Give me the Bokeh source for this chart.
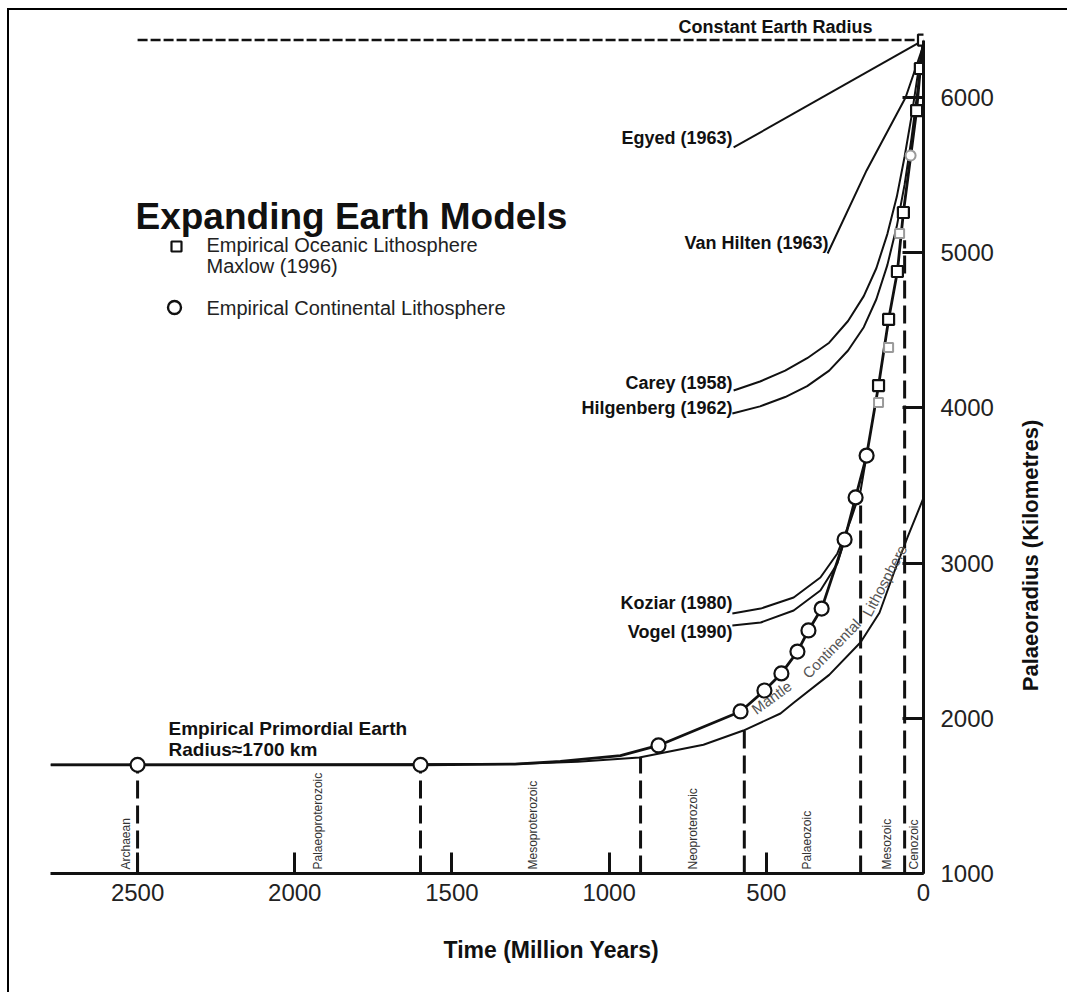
import math
from bokeh.plotting import figure
from bokeh.models import Range1d, Label, FixedTicker, Title
from bokeh.embed import file_html
from bokeh.resources import INLINE

# ---------------- data (time in Myr before present, radius in km) ----------------
const_t = [2500, 0]
const_r = [6370, 6370]

cont_circle_t = [2500, 1600, 843, 582, 506, 452, 401, 366, 324, 251, 216, 181]
cont_circle_r = [1700, 1700, 1825, 2044, 2179, 2289, 2430, 2566, 2707, 3152, 3423, 3693]

ocean_sq_t = [143, 111, 83, 64, 22, 10, 0]
ocean_sq_r = [4144, 4570, 4879, 5259, 5916, 6187, 6370]

grey_sq_t = [143, 111, 76]
grey_sq_r = [4035, 4389, 5124]
grey_ci_t = [41]
grey_ci_r = [5626]

emp_t = [2777, 2500, 1600, 1300, 1155, 964, 843, 582, 506, 452, 401, 366, 324, 251, 216, 181,
         143, 111, 83, 64, 22, 10, 0]
emp_r = [1700, 1700, 1700, 1705, 1722, 1760, 1825, 2044, 2179, 2289, 2430, 2566, 2707, 3152, 3423, 3693,
         4144, 4570, 4879, 5259, 5916, 6187, 6370]

mantle_t = [2777, 1300, 1100, 904, 700, 573, 455, 413, 300, 200, 140, 95, 51, 0]
mantle_r = [1700, 1705, 1720, 1747, 1830, 1921, 2031, 2100, 2280, 2490, 2680, 2933, 3165, 3420]

egyed_t = [604, 0]
egyed_r = [5678, 6370]
vanhilten_t = [305, 181, 57, 3, 0]
vanhilten_r = [4995, 5530, 6000, 6320, 6370]
carey_t = [604, 520, 440, 370, 300, 240, 190, 150, 115, 85, 60, 38, 18, 0]
carey_r = [4112, 4170, 4240, 4320, 4420, 4560, 4720, 4900, 5120, 5360, 5620, 5880, 6150, 6370]
hilgenberg_t = [608, 520, 440, 370, 300, 240, 190, 150, 115, 85, 60, 38, 18, 0]
hilgenberg_r = [3964, 4010, 4070, 4140, 4240, 4370, 4520, 4700, 4920, 5170, 5440, 5740, 6060, 6370]
koziar_t = [608, 518, 413, 328, 274, 232, 200, 181]
koziar_r = [2675, 2707, 2778, 2907, 3062, 3275, 3468, 3693]
vogel_t = [608, 518, 413, 328, 274, 251]
vogel_r = [2598, 2617, 2695, 2823, 2997, 3152]

boundary_t = [2500, 1600, 900, 570, 200, 60]
boundary_top = [1700, 1700, 1750, 1921, 3400, 5080]

era_names = ["Archaean", "Palaeoproterozoic", "Mesoproterozoic", "Neoproterozoic",
             "Palaeozoic", "Mesozoic", "Cenozoic"]

x_ticks = [2500, 2000, 1500, 1000, 500, 0]
y_ticks = [1000, 2000, 3000, 4000, 5000, 6000]

# ---------------- layout helpers (page pixel -> data, for annotations only) ----------------
X0, Y1 = 2777, 6560.6
def tx(px):
    return X0 * (923 - px) / 873
def ry(py):
    return 1000 + (873 - py) * (Y1 - 1000) / 863

FONT = "Liberation Sans"

p = figure(width=1060, height=984, x_range=Range1d(X0, 0), y_range=Range1d(1000, Y1),
           output_backend="svg", toolbar_location=None, y_axis_location="right",
           min_border_left=41, min_border_right=146, min_border_top=0, min_border_bottom=121)
p.styles = {"margin-left": "7px", "margin-top": "8px",
            "border-top": "2px solid #000", "border-left": "2px solid #000"}
p.xgrid.visible = False
p.ygrid.visible = False
p.outline_line_color = None
p.background_fill_color = "white"

for ax, ticks, bounds, standoff in ((p.xaxis[0], x_ticks, (0, X0), 10), (p.yaxis[0], y_ticks, (1000, 6370), 17)):
    ax.ticker = FixedTicker(ticks=ticks)
    ax.bounds = bounds
    ax.major_tick_in = 21
    ax.major_tick_out = 0
    ax.minor_tick_in = 0
    ax.minor_tick_out = 0
    ax.axis_line_width = 3
    ax.major_tick_line_width = 3
    ax.axis_line_color = "#111"
    ax.major_tick_line_color = "#111"
    ax.major_label_text_font = FONT
    ax.major_label_text_font_size = "24px"
    ax.major_label_text_color = "#222"
    ax.major_label_standoff = standoff

# constant radius
p.line(const_t, const_r, line_width=2.5, line_dash="10 3", color="#111")

# model curves
for tt, rr in ((egyed_t, egyed_r), (vanhilten_t, vanhilten_r), (carey_t, carey_r),
               (hilgenberg_t, hilgenberg_r), (koziar_t, koziar_r), (vogel_t, vogel_r)):
    p.line(tt, rr, line_width=2, color="#111")

# mantle curve and empirical curve
p.line(mantle_t, mantle_r, line_width=2, color="#111")
p.line(emp_t, emp_r, line_width=2.8, color="#111")

# era boundaries
p.segment(x0=boundary_t, y0=[1000] * len(boundary_t), x1=boundary_t, y1=boundary_top,
          line_width=3, line_dash="18 7", color="#111")

# markers
p.scatter(grey_sq_t, grey_sq_r, marker="square", size=9, fill_color="white", line_color="#9a9a9a", line_width=2)
p.scatter(grey_ci_t, grey_ci_r, marker="circle", size=10, fill_color="white", line_color="#9a9a9a", line_width=2)
p.scatter(cont_circle_t, cont_circle_r, marker="circle", size=14, fill_color="white", line_color="#111", line_width=2.2)
p.scatter(ocean_sq_t, ocean_sq_r, marker="square", size=11, fill_color="white", line_color="#111", line_width=2.2)

# legend (manual)
p.scatter([tx(176)], [ry(246)], marker="square", size=10, fill_color="white", line_color="#111", line_width=2.2)
p.scatter([tx(174)], [ry(307)], marker="circle", size=13, fill_color="white", line_color="#111", line_width=2.4)

def lab(px, py, text, size, bold=False, align="left", baseline="middle", angle=0.0, color="#111",
        font=FONT, side=None):
    l = Label(x=tx(px), y=ry(py), text=text, text_font=font, text_font_size=f"{size}px",
              text_font_style="bold" if bold else "normal", text_align=align,
              text_baseline=baseline, angle=angle, text_color=color)
    if side is None:
        p.add_layout(l)
    else:
        p.add_layout(l, side)

lab(135, 216, "Expanding Earth Models", 37, bold=True, baseline="alphabetic")
lab(206, 244, "Empirical Oceanic Lithosphere", 20, color="#222")
lab(206, 265, "Maxlow (1996)", 20, color="#222")
lab(206, 307, "Empirical Continental Lithosphere", 20, color="#222")

lab(678, 26, "Constant Earth Radius", 18, bold=True)
lab(732, 137, "Egyed (1963)", 18, bold=True, align="right")
lab(828, 242, "Van Hilten (1963)", 18, bold=True, align="right")
lab(732, 382, "Carey (1958)", 18, bold=True, align="right")
lab(732, 407, "Hilgenberg (1962)", 18, bold=True, align="right")
lab(732, 602, "Koziar (1980)", 18, bold=True, align="right")
lab(732, 631, "Vogel (1990)", 18, bold=True, align="right")
lab(168, 728, "Empirical Primordial Earth", 19, bold=True)
lab(168, 749, "Radius\u22481700 km", 19, bold=True)

# text along mantle curve
lab(771, 697, "Mantle", 15, angle=math.radians(36), align="center", color="#555")
lab(831, 648, "Continental", 15, angle=math.radians(46), align="center", color="#555")
lab(884, 580, "Lithosphere", 15, angle=math.radians(62), align="center", color="#555")

# era names (vertical)
era_px = [125, 317, 532, 692, 806, 886, 913]
for name, px in zip(era_names, era_px):
    lab(px, 869, name, 12, angle=math.pi / 2, color="#333")

# axis titles
p.add_layout(Title(text="Time (Million Years)", align="left", offset=393, standoff=63,
                   text_font=FONT, text_font_size="23px",
                   text_font_style="bold", text_color="#111"), "below")
lab(1030, 555, "Palaeoradius (Kilometres)", 22, bold=True, align="center", angle=math.pi / 2, side="right")

open("out.html", "w").write(file_html(p, INLINE))
